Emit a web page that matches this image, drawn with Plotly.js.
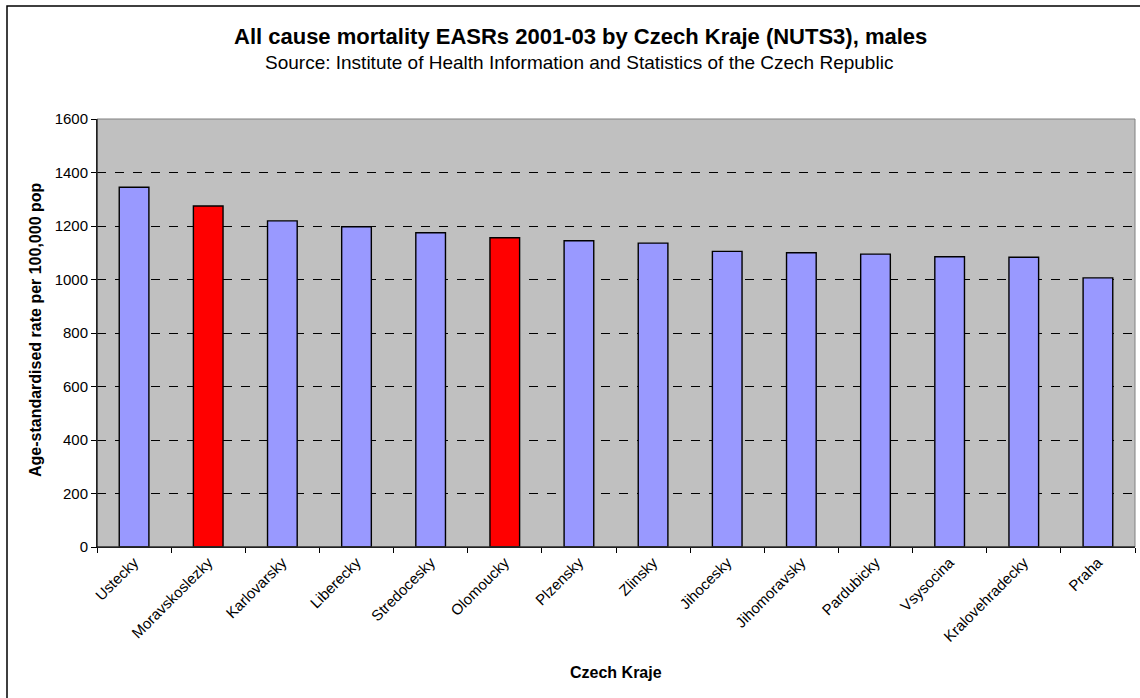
<!DOCTYPE html>
<html>
<head>
<meta charset="utf-8">
<script src="https://cdn.plot.ly/plotly-3.0.1.min.js"></script>
<style>html,body{margin:0;padding:0;background:#fff;} #chart{width:1140px;height:698px;}</style>
</head>
<body>
<div id="chart"></div>
<script>
const regions = ["Ustecky","Moravskoslezky","Karlovarsky","Liberecky","Stredocesky","Olomoucky","Plzensky","Zlinsky","Jihocesky","Jihomoravsky","Pardubicky","Vsysocina","Kralovehradecky","Praha"];
const rates = [1345,1275,1219,1197,1175,1156,1145,1136,1105,1100,1095,1085,1083,1006];
const highlighted = ["Moravskoslezky","Olomoucky"];
const yTicks = [0,200,400,600,800,1000,1200,1400,1600];
const titleText = "All cause mortality EASRs 2001-03 by Czech Kraje (NUTS3), males";
const subtitleText = "Source: Institute of Health Information and Statistics of the Czech Republic";
const xTitle = "Czech Kraje";
const yTitle = "Age-standardised rate per 100,000 pop";

const colors = regions.map(r => highlighted.includes(r) ? "#FF0000" : "#9999FF");
const font = "Liberation Sans, Arial, sans-serif";

const L = 97, R = 1135, T = 119, B = 547;
const W = R - L, H = B - T;
const px = x => (x - L) / W;
const py = y => (B - y) / H;

const data = [{
  type: "bar",
  x: regions,
  y: rates,
  marker: {color: colors, line: {color: "#000000", width: 1.4}},
  width: 0.4,
  hoverinfo: "x+y"
}];

const layout = {
  width: 1140, height: 698,
  margin: {l: L, r: 1140 - R, t: T, b: 698 - B, pad: 0},
  paper_bgcolor: "#FFFFFF",
  plot_bgcolor: "#C0C0C0",
  showlegend: false,
  font: {family: font, color: "#000000", size: 15},
  xaxis: {
    type: "category",
    tickangle: -45,
    tickson: "boundaries",
    ticks: "outside", ticklen: 5, tickcolor: "#000000",
    showline: true, linecolor: "#000000", linewidth: 1,
    showgrid: false,
    tickfont: {family: font, size: 15, color: "#000000"},
    automargin: false
  },
  yaxis: {
    range: [0, 1600],
    tickvals: yTicks,
    ticktext: yTicks.map(String),
    ticks: "outside", ticklen: 5, tickcolor: "#000000",
    showline: true, linecolor: "#000000", linewidth: 1,
    showgrid: true, gridcolor: "#000000", gridwidth: 1, griddash: "dash",
    zeroline: false,
    tickfont: {family: font, size: 15, color: "#000000"},
    automargin: false
  },
  annotations: [
    {text: "<b>" + titleText + "</b>", xref: "paper", yref: "paper", x: px(580), y: py(36),
     xanchor: "center", yanchor: "middle", showarrow: false,
     font: {family: font, size: 22, color: "#000000"}},
    {text: subtitleText, xref: "paper", yref: "paper", x: px(579), y: py(63),
     xanchor: "center", yanchor: "middle", showarrow: false,
     font: {family: font, size: 19, color: "#000000"}},
    {text: "<b>" + xTitle + "</b>", xref: "paper", yref: "paper", x: px(616), y: py(672),
     xanchor: "center", yanchor: "middle", showarrow: false,
     font: {family: font, size: 16, color: "#000000"}},
    {text: "<b>" + yTitle + "</b>", xref: "paper", yref: "paper", x: px(35), y: py(330),
     xanchor: "center", yanchor: "middle", showarrow: false, textangle: -90,
     font: {family: font, size: 16, color: "#000000"}}
  ],
  shapes: [
    {type: "rect", xref: "paper", yref: "paper", x0: 0, x1: 1, y0: 0, y1: 1,
     line: {color: "#808080", width: 1}, fillcolor: "rgba(0,0,0,0)", layer: "above"},
    {type: "line", xref: "paper", yref: "paper", x0: 0, x1: 0, y0: 0, y1: 1,
     line: {color: "#000000", width: 1}, layer: "above"},
    {type: "line", xref: "paper", yref: "paper", x0: 0, x1: 1, y0: 0, y1: 0,
     line: {color: "#000000", width: 1}, layer: "above"},
    {type: "rect", xref: "paper", yref: "paper", x0: px(7), x1: px(1150), y0: py(710), y1: py(6),
     line: {color: "#000000", width: 1.5}, fillcolor: "rgba(0,0,0,0)", layer: "above"}
  ]
};

Plotly.newPlot("chart", data, layout, {displayModeBar: false, staticPlot: true});
</script>
</body>
</html>
